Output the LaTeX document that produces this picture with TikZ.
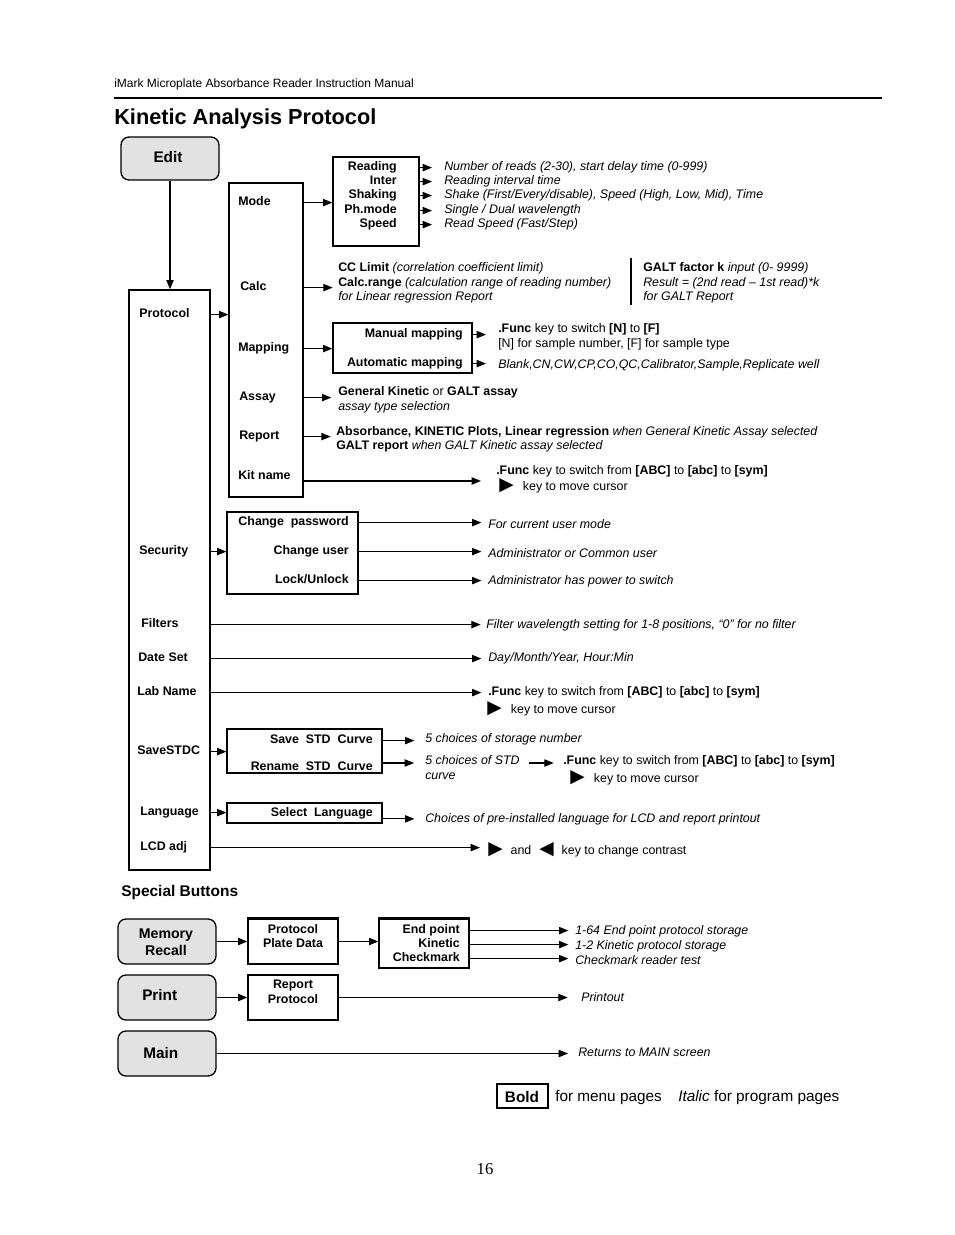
\documentclass[tikz,border=0pt]{standalone}
\usepackage{fontspec}
\setmainfont{Liberation Sans}
\newfontfamily\symfont{DejaVu Sans}
\newfontfamily\pagefont{Liberation Serif}
\usetikzlibrary{arrows.meta,fit}
\definecolor{cbtn}{RGB}{226,226,226}
\newcommand{\rtri}{{\symfont\fontsize{14}{11}\selectfont ▶}}
\newcommand{\ltri}{{\symfont\fontsize{14}{11}\selectfont ◀}}

\begin{document}
\begin{tikzpicture}[x=0.75pt, y=-0.75pt, >={Triangle[length=7pt,width=5.5pt]},
  lbl/.style={font=\fontsize{9.3}{11}\selectfont\bfseries, inner sep=0, text height=6.7pt, text depth=1.9pt, yshift=-1.2pt},
  lbls/.style={font=\fontsize{9.3}{11}\selectfont\bfseries, inner sep=0, align=center},
  note/.style={font=\fontsize{9.3}{11}\selectfont, inner sep=0, anchor=west, align=left, yshift=-1.4pt},
  ital/.style={note, font=\fontsize{9.3}{11}\selectfont\itshape},
  box/.style={draw, line width=1pt, inner sep=0},
  btn/.style={draw, line width=1pt, rounded corners=6pt, fill=cbtn, inner sep=0},
  btnlbl/.style={font=\fontsize{11.5}{13}\selectfont\bfseries, inner sep=0, align=center},
  arr/.style={->, line width=0.8pt}]
\useasboundingbox (0,0) rectangle (954,1235);

% page head
\node[font=\fontsize{9}{11}\selectfont, inner sep=0, anchor=west] (manual) at (114,84)
  {iMark Microplate Absorbance Reader Instruction Manual};
\draw[line width=0.8pt] (114,98) -- (882,98);
\node[font=\fontsize{16.3}{19}\selectfont\bfseries, inner sep=0, anchor=west] (title) at (114,119)
  {Kinetic Analysis Protocol};

% edit -> protocol -> menu column
\node[btn, fit={(121,137)(219,180)}] (edit) {};
\node[btnlbl] (editlbl) at (168,157) {Edit};
\node[box, fit={(129,290)(210,870)}] (protocol) {};
\node[box, fit={(229,183)(303,497)}] (menu) {};
\node[lbl, anchor=west] (plbl) at (139,313) {Protocol};
\draw[arr] (edit.south) -- (edit.south |- protocol.north);
\draw[arr] (protocol.east |- plbl) -- (menu.west |- plbl);

\node[lbl, anchor=west] (mode) at (238,201) {Mode};
\node[lbl, anchor=west] (calc) at (240,286) {Calc};
\node[lbl, anchor=west] (mapping) at (238,347) {Mapping};
\node[lbl, anchor=west] (assay) at (239,396) {Assay};
\node[lbl, anchor=west] (report) at (239,435) {Report};
\node[lbl, anchor=west] (kitname) at (238,475) {Kit name};

% mode
\node[box, fit={(333,157)(419,246)}] (readbox) {};
\node[lbl, anchor=east] (reading) at (397,166) {Reading};
\node[lbl, anchor=east] (inter) at (397,180) {Inter};
\node[lbl, anchor=east] (shaking) at (397,194) {Shaking};
\node[lbl, anchor=east] (phmode) at (397,209) {Ph.mode};
\node[lbl, anchor=east] (speed) at (397,223) {Speed};
\node[ital] (treading) at (444,165) {Number of reads (2-30), start delay time (0-999)};
\node[ital] (tinter) at (444,179) {Reading interval time};
\node[ital] (tshaking) at (444,193) {Shake (First/Every/disable), Speed (High, Low, Mid), Time};
\node[ital] (tphmode) at (444,208) {Single / Dual wavelength};
\node[ital] (tspeed) at (444,222) {Read Speed (Fast/Step)};
\draw[arr] (menu.east |- mode) -- (readbox.west |- mode);
\draw[arr, shorten >=9pt] (readbox.east |- reading) -- (treading.west |- reading);
\draw[arr, shorten >=9pt] (readbox.east |- inter) -- (tinter.west |- inter);
\draw[arr, shorten >=9pt] (readbox.east |- shaking) -- (tshaking.west |- shaking);
\draw[arr, shorten >=9pt] (readbox.east |- phmode) -- (tphmode.west |- phmode);
\draw[arr, shorten >=9pt] (readbox.east |- speed) -- (tspeed.west |- speed);

% calc
\node[note] (calctxt) at (338,281) {\textbf{CC Limit} \textit{(correlation coefficient limit)}\\
  \textbf{Calc.range} \textit{(calculation range of reading number)}\\
  \textit{for Linear regression Report}};
\node[note] (galttxt) at (643,281) {\textbf{GALT factor k} \textit{input (0- 9999)}\\
  \textit{Result = (2nd read -- 1st read)*k}\\
  \textit{for GALT Report}};
\draw[line width=0.8pt] (631,258) -- (631,305);
\draw[arr, shorten >=4pt] (menu.east |- calc) -- (calctxt.west |- calc);

% mapping
\node[box, fit={(333,323)(472,373)}] (mapbox) {};
\node[lbl, anchor=east] (manual) at (463,333) {Manual mapping};
\node[lbl, anchor=east] (automatic) at (463,362) {Automatic mapping};
\node[note] (mantxt) at (498,335) {\textbf{.Func} key to switch \textbf{[N]} to \textbf{[F]}\\{}%
  [N] for sample number, [F] for sample type};
\node[ital] (autotxt) at (498,363) {Blank,CN,CW,CP,CO,QC,Calibrator,Sample,Replicate well};
\draw[arr] (menu.east |- mapping) -- (mapbox.west |- mapping);
\draw[arr, shorten >=9pt] (mapbox.east |- manual) -- (mantxt.west |- manual);
\draw[arr, shorten >=9pt] (mapbox.east |- automatic) -- (autotxt.west |- automatic);

% assay, report, kit name
\node[note] (assaytxt) at (338,398) {\textbf{General Kinetic} or \textbf{GALT assay}\\
  \textit{assay type selection}};
\node[note] (reporttxt) at (336,437.5) {\textbf{Absorbance, KINETIC Plots, Linear regression}
  \textit{when General Kinetic Assay selected}\\
  \textbf{GALT report} \textit{when GALT Kinetic assay selected}};
\draw[arr, shorten >=5pt] (menu.east |- assay) -- (assaytxt.west |- assay);
\draw[arr, shorten >=4pt] (menu.east |- report) -- (reporttxt.west |- report);
\coordinate (kitarr) at (481,481);
\node[note] (kitfunc) at (496,469) {\textbf{.Func} key to switch from \textbf{[ABC]} to \textbf{[abc]} to \textbf{[sym]}};
\node[note] (kitkey) at (499,484) {\rtri\hspace{7pt}key to move cursor};
\draw[arr] (menu.east |- kitarr) -- (kitarr);

% security
\node[lbl, anchor=west] (security) at (139,550) {Security};
\node[box, fit={(227,512)(358,594)}] (secbox) {};
\node[lbl, anchor=east] (chpw) at (349,521) {Change\ \ password};
\node[lbl, anchor=east] (chuser) at (349,550) {Change user};
\node[lbl, anchor=east] (lock) at (349,579) {Lock/Unlock};
\node[ital] (tchpw) at (488,522) {For current user mode};
\node[ital] (tchuser) at (488,551) {Administrator or Common user};
\node[ital] (tlock) at (488,579) {Administrator has power to switch};
\draw[arr] (protocol.east |- security) -- (secbox.west |- security);
\draw[arr, shorten >=5pt] (secbox.east |- chpw) -- (tchpw.west |- chpw);
\draw[arr, shorten >=5pt] (secbox.east |- chuser) -- (tchuser.west |- chuser);
\draw[arr, shorten >=5pt] (secbox.east |- lock) -- (tlock.west |- lock);

% filters, date set, lab name
\node[lbl, anchor=west] (filters) at (141,623) {Filters};
\node[ital] (tfilters) at (486,623) {Filter wavelength setting for 1-8 positions, “0” for no filter};
\draw[arr, shorten >=4pt] (protocol.east |- filters) -- (tfilters.west |- filters);
\node[lbl, anchor=west] (dateset) at (138,657) {Date Set};
\node[ital] (tdate) at (488,656) {Day/Month/Year, Hour:Min};
\draw[arr, shorten >=5pt] (protocol.east |- dateset) -- (tdate.west |- dateset);
\node[lbl, anchor=west] (labname) at (137,691) {Lab Name};
\node[note] (labfunc) at (488,690) {\textbf{.Func} key to switch from \textbf{[ABC]} to \textbf{[abc]} to \textbf{[sym]}};
\node[note] (labkey) at (487,707) {\rtri\hspace{7pt}key to move cursor};
\draw[arr, shorten >=5pt] (protocol.east |- labname) -- (labfunc.west |- labname);

% savestdc
\node[lbl, anchor=west] (savestdc) at (137,750) {SaveSTDC};
\node[box, fit={(227,729)(382,773)}] (stdbox) {};
\node[lbl, anchor=east] (save) at (373,739) {Save\ \ STD\ \ Curve};
\node[lbl, anchor=east] (rename) at (373,766) {Rename\ \ STD\ \ Curve};
\node[ital] (savetxt) at (425,737) {5 choices of storage number};
\node[ital] (stdtxt) at (425,766) {5 choices of STD\\curve};
\node[note] (funcstd) at (563,759) {\textbf{.Func} key to switch from \textbf{[ABC]} to \textbf{[abc]} to \textbf{[sym]}};
\node[note] (stdkey) at (570,776) {\rtri\hspace{7pt}key to move cursor};
\coordinate (renarr) at (414,763);
\draw[arr] (protocol.east |- savestdc) -- (stdbox.west |- savestdc);
\draw[arr, shorten >=8pt] (stdbox.east |- save) -- (savetxt.west |- save);
\draw[arr] (stdbox.east |- renarr) -- (renarr);
\draw[arr, shorten <=7pt, shorten >=7pt] (stdtxt.east |- renarr) -- (funcstd.west |- renarr);

% language, lcd adj
\node[lbl, anchor=west] (language) at (140,811) {Language};
\node[box, fit={(227,803)(382,823)}] (langbox) {};
\node[lbl, anchor=east] (selang) at (373,812) {Select\ \ Language};
\node[ital] (langtxt) at (425,817) {Choices of pre-installed language for LCD and report printout};
\draw[arr] (protocol.east |- language) -- (langbox.west |- language);
\draw[arr, shorten >=8pt] (langbox.east |- langtxt) -- (langtxt.west);
\node[lbl, anchor=west] (lcdadj) at (140,846) {LCD adj};
\node[note] (lcdtxt) at (488,848) {\rtri\hspace{6pt}and\hspace{6pt}\ltri\hspace{6pt}key to change contrast};
\draw[arr, shorten >=6pt] (protocol.east |- lcdadj) -- (lcdtxt.west |- lcdadj);

% special buttons
\node[font=\fontsize{11.6}{14}\selectfont\bfseries, inner sep=0, anchor=west] (special) at (121,892) {Special Buttons};
\node[btn, fit={(118,919)(216,964)}] (memrec) {};
\node[btnlbl, font=\fontsize{10.6}{12.8}\selectfont\bfseries] (memlbl) at (166,942) {Memory\\Recall};
\node[box, fit={(248,919)(338,964)}] (ppd) {};
\node[lbls] (ppdtxt) at (293,936) {Protocol\\Plate Data};
\node[box, fit={(379,919)(469,968)}] (endpt) {};
\draw[line width=1.6pt] (ppd.north west) -- (ppd.north east);
\draw[line width=1.6pt] (endpt.north west) -- (endpt.north east);
\node[lbl, anchor=east] (endpoint) at (460,929) {End point};
\node[lbl, anchor=east] (kinetic) at (460,943) {Kinetic};
\node[lbl, anchor=east] (checkmark) at (460,957) {Checkmark};
\node[ital] (tendpoint) at (575,929) {1-64 End point protocol storage};
\node[ital] (tkinetic) at (575,944) {1-2 Kinetic protocol storage};
\node[ital] (tcheckmark) at (575,958) {Checkmark reader test};
\draw[arr] (memrec.east) -- (memrec.east -| ppd.west);
\draw[arr] (ppd.east) -- (ppd.east -| endpt.west);
\draw[arr, shorten >=5pt] (endpt.east |- endpoint) -- (tendpoint.west |- endpoint);
\draw[arr, shorten >=5pt] (endpt.east |- kinetic) -- (tkinetic.west |- kinetic);
\draw[arr, shorten >=5pt] (endpt.east |- checkmark) -- (tcheckmark.west |- checkmark);

\node[btn, fit={(118,975)(216,1020)}] (print) {};
\node[btnlbl, anchor=west] (printlbl) at (142,995) {Print};
\node[box, fit={(248,975)(338,1020)}] (rp) {};
\node[lbls] (rptxt) at (293,991.5) {Report\\Protocol};
\node[ital] (tprint) at (581,995) {Printout};
\draw[arr] (print.east) -- (print.east -| rp.west);
\draw[arr, shorten >=10pt] (rp.east) -- (rp.east -| tprint.west);

\node[btn, fit={(118,1031)(216,1076)}] (main) {};
\node[btnlbl, anchor=west] (mainlbl) at (143,1053) {Main};
\node[ital] (tmain) at (578,1050) {Returns to MAIN screen};
\draw[arr, shorten >=7.5pt] (main.east) -- (main.east -| tmain.west);

% legend
\node[box, fit={(497,1084)(548,1108)}] (boldkey) {};
\node[font=\fontsize{11.5}{13}\selectfont\bfseries, inner sep=0] (boldlbl) at (522,1097) {Bold};
\node[font=\fontsize{11.5}{13}\selectfont, inner sep=0, anchor=west] (boldtxt) at (555,1098) {for menu pages};
\node[font=\fontsize{11.5}{13}\selectfont, inner sep=0, anchor=west] (italtxt) at (678,1098) {\textit{Italic} for program pages};

\node[font=\pagefont\fontsize{12.5}{14}\selectfont, inner sep=0] (pageno) at (485,1169) {16};
\end{tikzpicture}
\end{document}
